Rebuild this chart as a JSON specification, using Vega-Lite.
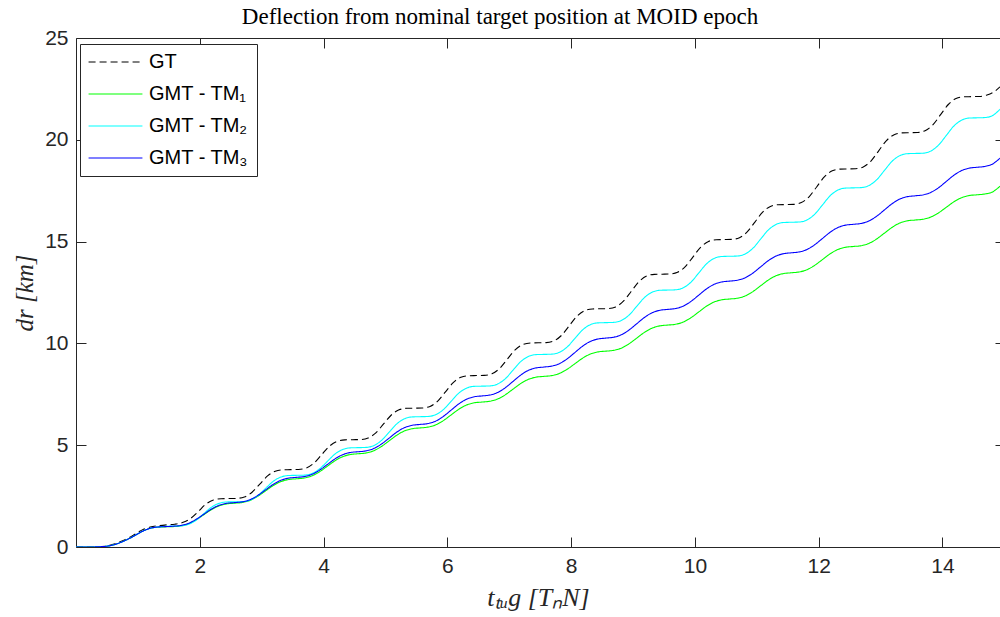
{
  "$schema": "https://vega.github.io/schema/vega-lite/v6.json",
  "autosize": "none",
  "width": 924,
  "height": 509,
  "padding": {"left": 76, "top": 38, "right": 0, "bottom": 70},
  "background": "white",
  "config": {
    "font": "Liberation Sans",
    "view": {"stroke": null},
    "axis": {"domainColor": "#262626", "tickColor": "#262626", "labelColor": "#262626", "domainWidth": 1, "tickWidth": 1, "grid": false, "labelFontSize": 21, "labelFont": "Liberation Sans"}
  },
  "title": {"text": "Deflection from nominal target position at MOID epoch", "font": "Liberation Serif", "fontSize": 23, "fontWeight": "normal", "color": "#000000", "anchor": "middle", "frame": "group", "dx": -38, "baseline": "alphabetic", "offset": -20},
  "data": {"values": [
{"s":"GT","t":0,"v":0},{"s":"GT","t":0.2,"v":0},{"s":"GT","t":0.35,"v":0.01},{"s":"GT","t":0.5,"v":0.05},{"s":"GT","t":0.6,"v":0.13},{"s":"GT","t":0.7,"v":0.24},{"s":"GT","t":0.8,"v":0.37},{"s":"GT","t":0.9,"v":0.53},{"s":"GT","t":1.0,"v":0.72},{"s":"GT","t":1.1,"v":0.88},{"s":"GT","t":1.2,"v":0.98},{"s":"GT","t":1.345,"v":1.05},
{"s":"GT","t":1.47,"v":1.09},{"s":"GT","t":1.595,"v":1.12},{"s":"GT","t":1.72,"v":1.2},{"s":"GT","t":1.845,"v":1.39},{"s":"GT","t":1.97,"v":1.725},{"s":"GT","t":2.095,"v":2.094},{"s":"GT","t":2.22,"v":2.309},{"s":"GT","t":2.345,"v":2.373},
{"s":"GT","t":2.47,"v":2.38},{"s":"GT","t":2.595,"v":2.387},{"s":"GT","t":2.72,"v":2.457},{"s":"GT","t":2.845,"v":2.69},{"s":"GT","t":2.97,"v":3.09},{"s":"GT","t":3.095,"v":3.49},{"s":"GT","t":3.22,"v":3.723},{"s":"GT","t":3.345,"v":3.793},
{"s":"GT","t":3.47,"v":3.8},{"s":"GT","t":3.595,"v":3.807},{"s":"GT","t":3.72,"v":3.879},{"s":"GT","t":3.845,"v":4.12},{"s":"GT","t":3.97,"v":4.535},{"s":"GT","t":4.095,"v":4.95},{"s":"GT","t":4.22,"v":5.191},{"s":"GT","t":4.345,"v":5.263},
{"s":"GT","t":4.47,"v":5.27},{"s":"GT","t":4.595,"v":5.278},{"s":"GT","t":4.72,"v":5.354},{"s":"GT","t":4.845,"v":5.608},{"s":"GT","t":4.97,"v":6.045},{"s":"GT","t":5.095,"v":6.482},{"s":"GT","t":5.22,"v":6.736},{"s":"GT","t":5.345,"v":6.812},
{"s":"GT","t":5.47,"v":6.82},{"s":"GT","t":5.595,"v":6.828},{"s":"GT","t":5.72,"v":6.906},{"s":"GT","t":5.845,"v":7.169},{"s":"GT","t":5.97,"v":7.62},{"s":"GT","t":6.095,"v":8.071},{"s":"GT","t":6.22,"v":8.334},{"s":"GT","t":6.345,"v":8.412},
{"s":"GT","t":6.47,"v":8.42},{"s":"GT","t":6.595,"v":8.428},{"s":"GT","t":6.72,"v":8.507},{"s":"GT","t":6.845,"v":8.771},{"s":"GT","t":6.97,"v":9.225},{"s":"GT","t":7.095,"v":9.679},{"s":"GT","t":7.22,"v":9.943},{"s":"GT","t":7.345,"v":10.022},
{"s":"GT","t":7.47,"v":10.03},{"s":"GT","t":7.595,"v":10.038},{"s":"GT","t":7.72,"v":10.12},{"s":"GT","t":7.845,"v":10.394},{"s":"GT","t":7.97,"v":10.865},{"s":"GT","t":8.095,"v":11.336},{"s":"GT","t":8.22,"v":11.61},{"s":"GT","t":8.345,"v":11.692},
{"s":"GT","t":8.47,"v":11.7},{"s":"GT","t":8.595,"v":11.709},{"s":"GT","t":8.72,"v":11.792},{"s":"GT","t":8.845,"v":12.071},{"s":"GT","t":8.97,"v":12.55},{"s":"GT","t":9.095,"v":13.029},{"s":"GT","t":9.22,"v":13.308},{"s":"GT","t":9.345,"v":13.392},
{"s":"GT","t":9.47,"v":13.4},{"s":"GT","t":9.595,"v":13.409},{"s":"GT","t":9.72,"v":13.492},{"s":"GT","t":9.845,"v":13.771},{"s":"GT","t":9.97,"v":14.25},{"s":"GT","t":10.095,"v":14.729},{"s":"GT","t":10.22,"v":15.008},{"s":"GT","t":10.345,"v":15.092},
{"s":"GT","t":10.47,"v":15.1},{"s":"GT","t":10.595,"v":15.109},{"s":"GT","t":10.72,"v":15.193},{"s":"GT","t":10.845,"v":15.475},{"s":"GT","t":10.97,"v":15.96},{"s":"GT","t":11.095,"v":16.445},{"s":"GT","t":11.22,"v":16.727},{"s":"GT","t":11.345,"v":16.811},
{"s":"GT","t":11.47,"v":16.82},{"s":"GT","t":11.595,"v":16.829},{"s":"GT","t":11.72,"v":16.915},{"s":"GT","t":11.845,"v":17.202},{"s":"GT","t":11.97,"v":17.695},{"s":"GT","t":12.095,"v":18.189},{"s":"GT","t":12.22,"v":18.476},{"s":"GT","t":12.345,"v":18.561},
{"s":"GT","t":12.47,"v":18.57},{"s":"GT","t":12.595,"v":18.579},{"s":"GT","t":12.72,"v":18.666},{"s":"GT","t":12.845,"v":18.958},{"s":"GT","t":12.97,"v":19.46},{"s":"GT","t":13.095,"v":19.962},{"s":"GT","t":13.22,"v":20.254},{"s":"GT","t":13.345,"v":20.341},
{"s":"GT","t":13.47,"v":20.35},{"s":"GT","t":13.595,"v":20.359},{"s":"GT","t":13.72,"v":20.446},{"s":"GT","t":13.845,"v":20.736},{"s":"GT","t":13.97,"v":21.235},{"s":"GT","t":14.095,"v":21.734},{"s":"GT","t":14.22,"v":22.024},{"s":"GT","t":14.345,"v":22.111},
{"s":"GT","t":14.47,"v":22.12},{"s":"GT","t":14.595,"v":22.13},{"s":"GT","t":14.72,"v":22.2},{"s":"GT","t":14.845,"v":22.38},{"s":"GT","t":14.93,"v":22.6},

{"s":"TM1","t":0,"v":0},{"s":"TM1","t":0.2,"v":0},{"s":"TM1","t":0.35,"v":0.01},{"s":"TM1","t":0.5,"v":0.04},{"s":"TM1","t":0.6,"v":0.1},{"s":"TM1","t":0.7,"v":0.2},{"s":"TM1","t":0.8,"v":0.33},{"s":"TM1","t":0.9,"v":0.48},{"s":"TM1","t":1.0,"v":0.65},{"s":"TM1","t":1.1,"v":0.81},{"s":"TM1","t":1.2,"v":0.92},{"s":"TM1","t":1.31,"v":0.97},{"s":"TM1","t":1.435,"v":0.99},
{"s":"TM1","t":1.56,"v":1.0},{"s":"TM1","t":1.685,"v":1.035},{"s":"TM1","t":1.81,"v":1.132},{"s":"TM1","t":1.935,"v":1.322},{"s":"TM1","t":2.06,"v":1.575},{"s":"TM1","t":2.185,"v":1.828},{"s":"TM1","t":2.31,"v":2.018},{"s":"TM1","t":2.435,"v":2.116},
{"s":"TM1","t":2.56,"v":2.15},{"s":"TM1","t":2.685,"v":2.186},{"s":"TM1","t":2.81,"v":2.288},{"s":"TM1","t":2.935,"v":2.486},{"s":"TM1","t":3.06,"v":2.75},{"s":"TM1","t":3.185,"v":3.014},{"s":"TM1","t":3.31,"v":3.212},{"s":"TM1","t":3.435,"v":3.314},
{"s":"TM1","t":3.56,"v":3.35},{"s":"TM1","t":3.685,"v":3.387},{"s":"TM1","t":3.81,"v":3.491},{"s":"TM1","t":3.935,"v":3.694},{"s":"TM1","t":4.06,"v":3.965},{"s":"TM1","t":4.185,"v":4.236},{"s":"TM1","t":4.31,"v":4.439},{"s":"TM1","t":4.435,"v":4.543},
{"s":"TM1","t":4.56,"v":4.58},{"s":"TM1","t":4.685,"v":4.618},{"s":"TM1","t":4.81,"v":4.726},{"s":"TM1","t":4.935,"v":4.936},{"s":"TM1","t":5.06,"v":5.215},{"s":"TM1","t":5.185,"v":5.494},{"s":"TM1","t":5.31,"v":5.704},{"s":"TM1","t":5.435,"v":5.812},
{"s":"TM1","t":5.56,"v":5.85},{"s":"TM1","t":5.685,"v":5.888},{"s":"TM1","t":5.81,"v":5.996},{"s":"TM1","t":5.935,"v":6.206},{"s":"TM1","t":6.06,"v":6.485},{"s":"TM1","t":6.185,"v":6.764},{"s":"TM1","t":6.31,"v":6.974},{"s":"TM1","t":6.435,"v":7.082},
{"s":"TM1","t":6.56,"v":7.12},{"s":"TM1","t":6.685,"v":7.158},{"s":"TM1","t":6.81,"v":7.265},{"s":"TM1","t":6.935,"v":7.473},{"s":"TM1","t":7.06,"v":7.75},{"s":"TM1","t":7.185,"v":8.027},{"s":"TM1","t":7.31,"v":8.235},{"s":"TM1","t":7.435,"v":8.342},
{"s":"TM1","t":7.56,"v":8.38},{"s":"TM1","t":7.685,"v":8.417},{"s":"TM1","t":7.81,"v":8.523},{"s":"TM1","t":7.935,"v":8.727},{"s":"TM1","t":8.06,"v":9.0},{"s":"TM1","t":8.185,"v":9.273},{"s":"TM1","t":8.31,"v":9.477},{"s":"TM1","t":8.435,"v":9.583},
{"s":"TM1","t":8.56,"v":9.62},{"s":"TM1","t":8.685,"v":9.658},{"s":"TM1","t":8.81,"v":9.767},{"s":"TM1","t":8.935,"v":9.978},{"s":"TM1","t":9.06,"v":10.26},{"s":"TM1","t":9.185,"v":10.542},{"s":"TM1","t":9.31,"v":10.753},{"s":"TM1","t":9.435,"v":10.862},
{"s":"TM1","t":9.56,"v":10.9},{"s":"TM1","t":9.685,"v":10.938},{"s":"TM1","t":9.81,"v":11.047},{"s":"TM1","t":9.935,"v":11.258},{"s":"TM1","t":10.06,"v":11.54},{"s":"TM1","t":10.185,"v":11.822},{"s":"TM1","t":10.31,"v":12.033},{"s":"TM1","t":10.435,"v":12.142},
{"s":"TM1","t":10.56,"v":12.18},{"s":"TM1","t":10.685,"v":12.219},{"s":"TM1","t":10.81,"v":12.328},{"s":"TM1","t":10.935,"v":12.541},{"s":"TM1","t":11.06,"v":12.825},{"s":"TM1","t":11.185,"v":13.109},{"s":"TM1","t":11.31,"v":13.322},{"s":"TM1","t":11.435,"v":13.431},
{"s":"TM1","t":11.56,"v":13.47},{"s":"TM1","t":11.685,"v":13.509},{"s":"TM1","t":11.81,"v":13.618},{"s":"TM1","t":11.935,"v":13.831},{"s":"TM1","t":12.06,"v":14.115},{"s":"TM1","t":12.185,"v":14.399},{"s":"TM1","t":12.31,"v":14.612},{"s":"TM1","t":12.435,"v":14.721},
{"s":"TM1","t":12.56,"v":14.76},{"s":"TM1","t":12.685,"v":14.799},{"s":"TM1","t":12.81,"v":14.91},{"s":"TM1","t":12.935,"v":15.124},{"s":"TM1","t":13.06,"v":15.41},{"s":"TM1","t":13.185,"v":15.696},{"s":"TM1","t":13.31,"v":15.911},{"s":"TM1","t":13.435,"v":16.021},
{"s":"TM1","t":13.56,"v":16.06},{"s":"TM1","t":13.685,"v":16.097},{"s":"TM1","t":13.81,"v":16.203},{"s":"TM1","t":13.935,"v":16.407},{"s":"TM1","t":14.06,"v":16.68},{"s":"TM1","t":14.185,"v":16.953},{"s":"TM1","t":14.31,"v":17.157},{"s":"TM1","t":14.435,"v":17.263},
{"s":"TM1","t":14.56,"v":17.3},{"s":"TM1","t":14.685,"v":17.338},{"s":"TM1","t":14.81,"v":17.44},{"s":"TM1","t":14.93,"v":17.72},

{"s":"TM2","t":0,"v":0},{"s":"TM2","t":0.2,"v":0},{"s":"TM2","t":0.35,"v":0.01},{"s":"TM2","t":0.5,"v":0.04},{"s":"TM2","t":0.6,"v":0.1},{"s":"TM2","t":0.7,"v":0.2},{"s":"TM2","t":0.8,"v":0.33},{"s":"TM2","t":0.9,"v":0.48},{"s":"TM2","t":1.0,"v":0.65},{"s":"TM2","t":1.1,"v":0.81},{"s":"TM2","t":1.2,"v":0.92},{"s":"TM2","t":1.31,"v":0.98},{"s":"TM2","t":1.435,"v":1.01},
{"s":"TM2","t":1.56,"v":1.03},{"s":"TM2","t":1.685,"v":1.038},{"s":"TM2","t":1.81,"v":1.107},{"s":"TM2","t":1.935,"v":1.304},{"s":"TM2","t":2.06,"v":1.625},{"s":"TM2","t":2.185,"v":1.946},{"s":"TM2","t":2.31,"v":2.143},{"s":"TM2","t":2.435,"v":2.212},
{"s":"TM2","t":2.56,"v":2.22},{"s":"TM2","t":2.685,"v":2.229},{"s":"TM2","t":2.81,"v":2.305},{"s":"TM2","t":2.935,"v":2.519},{"s":"TM2","t":3.06,"v":2.87},{"s":"TM2","t":3.185,"v":3.221},{"s":"TM2","t":3.31,"v":3.436},{"s":"TM2","t":3.435,"v":3.511},
{"s":"TM2","t":3.56,"v":3.52},{"s":"TM2","t":3.685,"v":3.53},{"s":"TM2","t":3.81,"v":3.608},{"s":"TM2","t":3.935,"v":3.833},{"s":"TM2","t":4.06,"v":4.2},{"s":"TM2","t":4.185,"v":4.567},{"s":"TM2","t":4.31,"v":4.792},{"s":"TM2","t":4.435,"v":4.87},
{"s":"TM2","t":4.56,"v":4.88},{"s":"TM2","t":4.685,"v":4.891},{"s":"TM2","t":4.81,"v":4.979},{"s":"TM2","t":4.935,"v":5.23},{"s":"TM2","t":5.06,"v":5.64},{"s":"TM2","t":5.185,"v":6.05},{"s":"TM2","t":5.31,"v":6.301},{"s":"TM2","t":5.435,"v":6.389},
{"s":"TM2","t":5.56,"v":6.4},{"s":"TM2","t":5.685,"v":6.411},{"s":"TM2","t":5.81,"v":6.498},{"s":"TM2","t":5.935,"v":6.745},{"s":"TM2","t":6.06,"v":7.15},{"s":"TM2","t":6.185,"v":7.555},{"s":"TM2","t":6.31,"v":7.803},{"s":"TM2","t":6.435,"v":7.89},
{"s":"TM2","t":6.56,"v":7.9},{"s":"TM2","t":6.685,"v":7.911},{"s":"TM2","t":6.81,"v":8.001},{"s":"TM2","t":6.935,"v":8.259},{"s":"TM2","t":7.06,"v":8.68},{"s":"TM2","t":7.185,"v":9.101},{"s":"TM2","t":7.31,"v":9.359},{"s":"TM2","t":7.435,"v":9.449},
{"s":"TM2","t":7.56,"v":9.46},{"s":"TM2","t":7.685,"v":9.471},{"s":"TM2","t":7.81,"v":9.561},{"s":"TM2","t":7.935,"v":9.819},{"s":"TM2","t":8.06,"v":10.24},{"s":"TM2","t":8.185,"v":10.661},{"s":"TM2","t":8.31,"v":10.919},{"s":"TM2","t":8.435,"v":11.009},
{"s":"TM2","t":8.56,"v":11.02},{"s":"TM2","t":8.685,"v":11.031},{"s":"TM2","t":8.81,"v":11.124},{"s":"TM2","t":8.935,"v":11.388},{"s":"TM2","t":9.06,"v":11.82},{"s":"TM2","t":9.185,"v":12.252},{"s":"TM2","t":9.31,"v":12.516},{"s":"TM2","t":9.435,"v":12.609},
{"s":"TM2","t":9.56,"v":12.62},{"s":"TM2","t":9.685,"v":12.632},{"s":"TM2","t":9.81,"v":12.728},{"s":"TM2","t":9.935,"v":13.002},{"s":"TM2","t":10.06,"v":13.45},{"s":"TM2","t":10.185,"v":13.898},{"s":"TM2","t":10.31,"v":14.172},{"s":"TM2","t":10.435,"v":14.268},
{"s":"TM2","t":10.56,"v":14.28},{"s":"TM2","t":10.685,"v":14.292},{"s":"TM2","t":10.81,"v":14.389},{"s":"TM2","t":10.935,"v":14.664},{"s":"TM2","t":11.06,"v":15.115},{"s":"TM2","t":11.185,"v":15.566},{"s":"TM2","t":11.31,"v":15.841},{"s":"TM2","t":11.435,"v":15.938},
{"s":"TM2","t":11.56,"v":15.95},{"s":"TM2","t":11.685,"v":15.962},{"s":"TM2","t":11.81,"v":16.06},{"s":"TM2","t":11.935,"v":16.339},{"s":"TM2","t":12.06,"v":16.795},{"s":"TM2","t":12.185,"v":17.251},{"s":"TM2","t":12.31,"v":17.53},{"s":"TM2","t":12.435,"v":17.628},
{"s":"TM2","t":12.56,"v":17.64},{"s":"TM2","t":12.685,"v":17.652},{"s":"TM2","t":12.81,"v":17.75},{"s":"TM2","t":12.935,"v":18.029},{"s":"TM2","t":13.06,"v":18.485},{"s":"TM2","t":13.185,"v":18.941},{"s":"TM2","t":13.31,"v":19.22},{"s":"TM2","t":13.435,"v":19.318},
{"s":"TM2","t":13.56,"v":19.33},{"s":"TM2","t":13.685,"v":19.342},{"s":"TM2","t":13.81,"v":19.444},{"s":"TM2","t":13.935,"v":19.733},{"s":"TM2","t":14.06,"v":20.205},{"s":"TM2","t":14.185,"v":20.678},{"s":"TM2","t":14.31,"v":20.966},{"s":"TM2","t":14.435,"v":21.068},
{"s":"TM2","t":14.56,"v":21.08},{"s":"TM2","t":14.685,"v":21.092},{"s":"TM2","t":14.81,"v":21.192},{"s":"TM2","t":14.93,"v":21.5},

{"s":"TM3","t":0,"v":0},{"s":"TM3","t":0.2,"v":0},{"s":"TM3","t":0.35,"v":0.01},{"s":"TM3","t":0.5,"v":0.04},{"s":"TM3","t":0.6,"v":0.1},{"s":"TM3","t":0.7,"v":0.2},{"s":"TM3","t":0.8,"v":0.33},{"s":"TM3","t":0.9,"v":0.48},{"s":"TM3","t":1.0,"v":0.65},{"s":"TM3","t":1.1,"v":0.81},{"s":"TM3","t":1.2,"v":0.92},{"s":"TM3","t":1.31,"v":0.98},{"s":"TM3","t":1.435,"v":1.0},
{"s":"TM3","t":1.56,"v":1.02},{"s":"TM3","t":1.685,"v":1.055},{"s":"TM3","t":1.81,"v":1.153},{"s":"TM3","t":1.935,"v":1.345},{"s":"TM3","t":2.06,"v":1.6},{"s":"TM3","t":2.185,"v":1.855},{"s":"TM3","t":2.31,"v":2.047},{"s":"TM3","t":2.435,"v":2.145},
{"s":"TM3","t":2.56,"v":2.18},{"s":"TM3","t":2.685,"v":2.217},{"s":"TM3","t":2.81,"v":2.323},{"s":"TM3","t":2.935,"v":2.527},{"s":"TM3","t":3.06,"v":2.8},{"s":"TM3","t":3.185,"v":3.073},{"s":"TM3","t":3.31,"v":3.277},{"s":"TM3","t":3.435,"v":3.383},
{"s":"TM3","t":3.56,"v":3.42},{"s":"TM3","t":3.685,"v":3.458},{"s":"TM3","t":3.81,"v":3.565},{"s":"TM3","t":3.935,"v":3.773},{"s":"TM3","t":4.06,"v":4.05},{"s":"TM3","t":4.185,"v":4.327},{"s":"TM3","t":4.31,"v":4.535},{"s":"TM3","t":4.435,"v":4.642},
{"s":"TM3","t":4.56,"v":4.68},{"s":"TM3","t":4.685,"v":4.72},{"s":"TM3","t":4.81,"v":4.834},{"s":"TM3","t":4.935,"v":5.055},{"s":"TM3","t":5.06,"v":5.35},{"s":"TM3","t":5.185,"v":5.645},{"s":"TM3","t":5.31,"v":5.866},{"s":"TM3","t":5.435,"v":5.98},
{"s":"TM3","t":5.56,"v":6.02},{"s":"TM3","t":5.685,"v":6.062},{"s":"TM3","t":5.81,"v":6.181},{"s":"TM3","t":5.935,"v":6.412},{"s":"TM3","t":6.06,"v":6.72},{"s":"TM3","t":6.185,"v":7.028},{"s":"TM3","t":6.31,"v":7.259},{"s":"TM3","t":6.435,"v":7.378},
{"s":"TM3","t":6.56,"v":7.42},{"s":"TM3","t":6.685,"v":7.463},{"s":"TM3","t":6.81,"v":7.583},{"s":"TM3","t":6.935,"v":7.818},{"s":"TM3","t":7.06,"v":8.13},{"s":"TM3","t":7.185,"v":8.442},{"s":"TM3","t":7.31,"v":8.677},{"s":"TM3","t":7.435,"v":8.797},
{"s":"TM3","t":7.56,"v":8.84},{"s":"TM3","t":7.685,"v":8.883},{"s":"TM3","t":7.81,"v":9.003},{"s":"TM3","t":7.935,"v":9.238},{"s":"TM3","t":8.06,"v":9.55},{"s":"TM3","t":8.185,"v":9.862},{"s":"TM3","t":8.31,"v":10.097},{"s":"TM3","t":8.435,"v":10.217},
{"s":"TM3","t":8.56,"v":10.26},{"s":"TM3","t":8.685,"v":10.302},{"s":"TM3","t":8.81,"v":10.422},{"s":"TM3","t":8.935,"v":10.655},{"s":"TM3","t":9.06,"v":10.965},{"s":"TM3","t":9.185,"v":11.275},{"s":"TM3","t":9.31,"v":11.508},{"s":"TM3","t":9.435,"v":11.628},
{"s":"TM3","t":9.56,"v":11.67},{"s":"TM3","t":9.685,"v":11.712},{"s":"TM3","t":9.81,"v":11.83},{"s":"TM3","t":9.935,"v":12.059},{"s":"TM3","t":10.06,"v":12.365},{"s":"TM3","t":10.185,"v":12.671},{"s":"TM3","t":10.31,"v":12.9},{"s":"TM3","t":10.435,"v":13.018},
{"s":"TM3","t":10.56,"v":13.06},{"s":"TM3","t":10.685,"v":13.102},{"s":"TM3","t":10.81,"v":13.22},{"s":"TM3","t":10.935,"v":13.449},{"s":"TM3","t":11.06,"v":13.755},{"s":"TM3","t":11.185,"v":14.061},{"s":"TM3","t":11.31,"v":14.29},{"s":"TM3","t":11.435,"v":14.408},
{"s":"TM3","t":11.56,"v":14.45},{"s":"TM3","t":11.685,"v":14.492},{"s":"TM3","t":11.81,"v":14.611},{"s":"TM3","t":11.935,"v":14.842},{"s":"TM3","t":12.06,"v":15.15},{"s":"TM3","t":12.185,"v":15.458},{"s":"TM3","t":12.31,"v":15.689},{"s":"TM3","t":12.435,"v":15.808},
{"s":"TM3","t":12.56,"v":15.85},{"s":"TM3","t":12.685,"v":15.892},{"s":"TM3","t":12.81,"v":16.011},{"s":"TM3","t":12.935,"v":16.242},{"s":"TM3","t":13.06,"v":16.55},{"s":"TM3","t":13.185,"v":16.858},{"s":"TM3","t":13.31,"v":17.089},{"s":"TM3","t":13.435,"v":17.208},
{"s":"TM3","t":13.56,"v":17.25},{"s":"TM3","t":13.685,"v":17.292},{"s":"TM3","t":13.81,"v":17.411},{"s":"TM3","t":13.935,"v":17.642},{"s":"TM3","t":14.06,"v":17.95},{"s":"TM3","t":14.185,"v":18.258},{"s":"TM3","t":14.31,"v":18.489},{"s":"TM3","t":14.435,"v":18.608},
{"s":"TM3","t":14.56,"v":18.65},{"s":"TM3","t":14.685,"v":18.692},{"s":"TM3","t":14.81,"v":18.811},{"s":"TM3","t":14.93,"v":19.1}
  ]},
  "layer": [
    {
      "mark": {"type": "line", "interpolate": "monotone", "strokeWidth": 1.1, "clip": true},
      "encoding": {
        "x": {"field": "t", "type": "quantitative", "scale": {"domain": [0, 14.93], "nice": false, "zero": false},
              "axis": {"orient": "bottom", "values": [2, 4, 6, 8, 10, 12, 14], "tickSize": -10, "labelPadding": 18, "title": "tₜᵤg [TₙN]", "titleFont": "Liberation Serif", "titleFontStyle": "italic", "titleFontWeight": "normal", "titleFontSize": 26, "titleColor": "#262626", "titlePadding": 8}},
        "y": {"field": "v", "type": "quantitative", "scale": {"domain": [0, 25], "nice": false},
              "axis": {"orient": "left", "values": [0, 5, 10, 15, 20, 25], "tickSize": -10, "labelPadding": 18, "title": "dr [km]", "titleFont": "Liberation Serif", "titleFontStyle": "italic", "titleFontWeight": "normal", "titleFontSize": 25, "titleColor": "#262626", "titlePadding": 7}},
        "color": {"field": "s", "type": "nominal",
                  "scale": {"domain": ["GT", "TM1", "TM2", "TM3"], "range": ["#000000", "#00ff00", "#00ffff", "#0000ff"]},
                  "legend": {"title": null, "orient": "none", "legendX": 4, "legendY": 6, "symbolType": "stroke", "symbolSize": 2900, "symbolStrokeWidth": 1.1, "clipHeight": 20, "rowPadding": 12, "labelOffset": 6, "padding": 8, "strokeColor": "#262626", "fillColor": "white", "labelFontSize": 20, "labelFont": "Liberation Sans", "labelColor": "#000000", "labelLimit": 0,
                             "labelExpr": "datum.label == 'GT' ? 'GT' : datum.label == 'TM1' ? 'GMT - TM₁' : datum.label == 'TM2' ? 'GMT - TM₂' : 'GMT - TM₃'"}},
        "strokeDash": {"field": "s", "type": "nominal",
                       "scale": {"domain": ["GT", "TM1", "TM2", "TM3"], "range": [[7, 4], [1, 0], [1, 0], [1, 0]]},
                       "legend": {"title": null, "orient": "none", "legendX": 4, "legendY": 6, "symbolType": "stroke", "symbolSize": 2900, "symbolStrokeWidth": 1.1, "clipHeight": 20, "rowPadding": 12, "labelOffset": 6, "padding": 8, "strokeColor": "#262626", "fillColor": "white", "labelFontSize": 20, "labelFont": "Liberation Sans", "labelColor": "#000000", "labelLimit": 0,
                             "labelExpr": "datum.label == 'GT' ? 'GT' : datum.label == 'TM1' ? 'GMT - TM₁' : datum.label == 'TM2' ? 'GMT - TM₂' : 'GMT - TM₃'"}}
      }
    },
    {
      "mark": {"type": "line", "opacity": 0},
      "encoding": {
        "x": {"field": "t", "type": "quantitative", "axis": {"orient": "top", "values": [2, 4, 6, 8, 10, 12, 14], "tickSize": -10, "labels": false, "title": null}},
        "y": {"field": "v", "type": "quantitative", "axis": {"orient": "right", "values": [0, 5, 10, 15, 20, 25], "tickSize": -5, "labels": false, "title": null}}
      }
    }
  ],
  "resolve": {"axis": {"x": "independent", "y": "independent"}}
}
